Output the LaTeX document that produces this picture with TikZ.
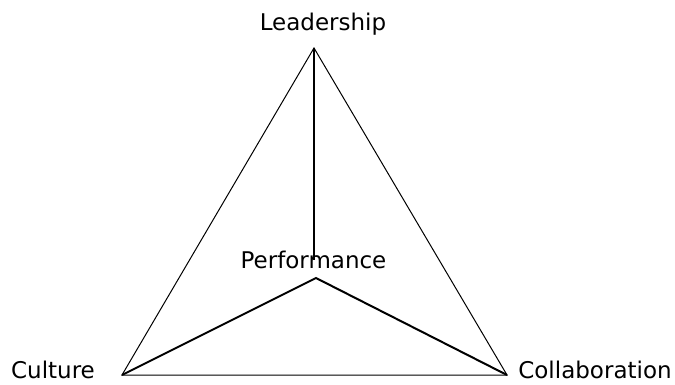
\documentclass[tikz,border=0pt]{standalone}
\usepackage{fontspec}
\setmainfont{DejaVu Sans}
\begin{document}
\begin{tikzpicture}[x=1pt,y=-1pt,
  lbl/.style={anchor=base,inner sep=0pt,font=\fontsize{23}{27}\selectfont},
  edge/.style={line width=1pt,line join=miter},
  spoke/.style={line width=2pt}]
\useasboundingbox (0,0) rectangle (675,385);
\coordinate (top) at (314,48);
\coordinate (bl) at (122,375);
\coordinate (br) at (507,375);
\coordinate (ctr) at (316,278);
\coordinate (vend) at (314,260);
\node[lbl] (lead) at (323,31) {Leadership};
\node[lbl] (perf) at (313.5,268) {Performance};
\node[lbl] (cult) at (53,378) {Culture};
\node[lbl] (coll) at (595,378) {Collaboration};
\draw[edge] (top) -- (bl) -- (br) -- cycle;
\draw[spoke] (top) -- (vend);
\draw[spoke] (bl) -- (ctr) -- (br);
\end{tikzpicture}
\end{document}
